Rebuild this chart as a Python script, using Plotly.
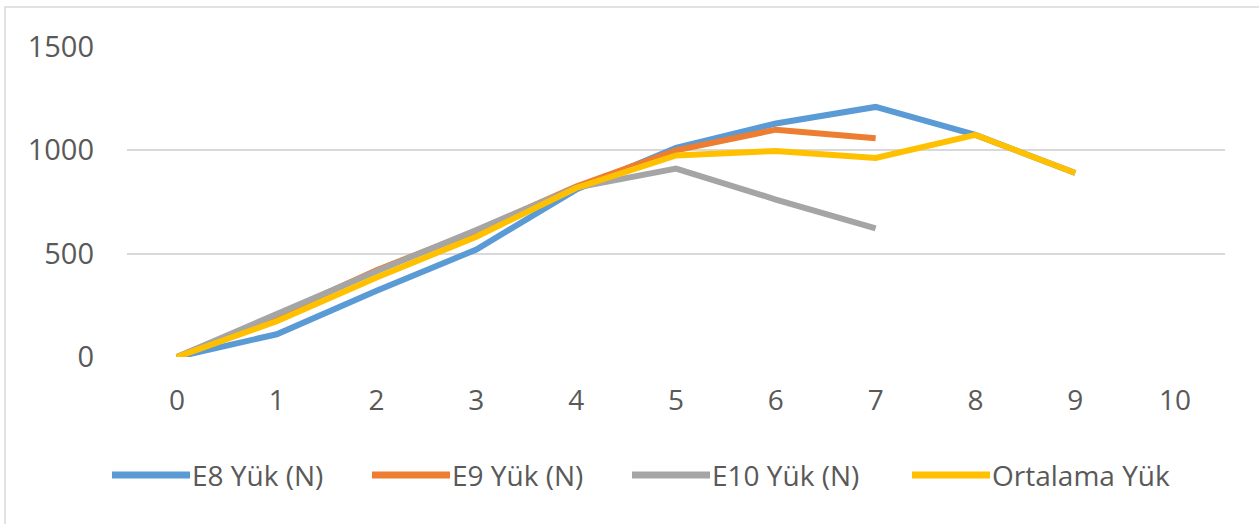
import plotly.graph_objects as go

x_vals = [0, 1, 2, 3, 4, 5, 6, 7, 8, 9, 10]
e8 = [0, 110, 320, 520, 810, 1012, 1130, 1210, 1075, 890]
e9 = [0, 200, 420, 610, 825, 1000, 1100, 1058]
e10 = [0, 210, 415, 615, 820, 912, 762, 622]
ort = [0, 173, 385, 582, 818, 975, 997, 963, 1075, 890]
names = ["E8 Yük (N)", "E9 Yük (N)", "E10 Yük (N)", "Ortalama Yük"]
colors = ["#5B9BD5", "#ED7D31", "#A5A5A5", "#FFC000"]
y_ticks = [0, 500, 1000, 1500]

L, R, T, B = 127, 34, 47, 167
W, H = 1259, 524
PW, PH = W - L - R, H - T - B

def px(x):
    return (x - L) / PW

def py(y):
    return (T + PH - y) / PH

FONT = "Open Sans"
TXT = "#595959"
FS = 29

fig = go.Figure()
for vals, name, col in zip([e8, e9, e10, ort], names, colors):
    fig.add_trace(go.Scatter(
        x=x_vals[:len(vals)], y=vals, mode="lines", name=name,
        line=dict(color=col, width=6), showlegend=False, hoverinfo="skip"))

shapes = [dict(type="rect", xref="paper", yref="paper",
               x0=px(5), y0=py(600), x1=px(1400), y1=py(7),
               line=dict(color="#D9D9D9", width=1.5), fillcolor="rgba(0,0,0,0)",
               layer="below")]
annotations = []
leg_x = [112, 372, 632, 912]
leg_y = 475
for lx, name, col in zip(leg_x, names, colors):
    shapes.append(dict(type="line", xref="paper", yref="paper",
                       x0=px(lx), x1=px(lx + 78), y0=py(leg_y), y1=py(leg_y),
                       line=dict(color=col, width=7)))
    annotations.append(dict(xref="paper", yref="paper", x=px(lx + 78), y=py(leg_y),
                            text=name, showarrow=False, xanchor="left", yanchor="middle",
                            font=dict(family=FONT, size=FS - 1, color=TXT)))

fig.update_layout(
    width=W, height=H,
    margin=dict(l=L, r=R, t=T, b=B),
    paper_bgcolor="white", plot_bgcolor="white",
    shapes=shapes, annotations=annotations,
    xaxis=dict(range=[-0.5, 10.5], tickmode="array", tickvals=x_vals,
               ticktext=[str(v) for v in x_vals], showgrid=False, zeroline=False,
               showline=False, ticks="", ticklabelstandoff=24,
               tickfont=dict(family=FONT, size=FS - 1, color=TXT), fixedrange=True),
    yaxis=dict(range=[0, 1500], tickmode="array", tickvals=y_ticks,
               ticktext=[str(v) for v in y_ticks], showgrid=True,
               gridcolor="#D9D9D9", gridwidth=1.5, zeroline=False, showline=False,
               ticks="", ticklabelstandoff=32,
               tickfont=dict(family=FONT, size=FS, color=TXT), fixedrange=True),
)
fig.write_html("out.html", config={"displayModeBar": False})
